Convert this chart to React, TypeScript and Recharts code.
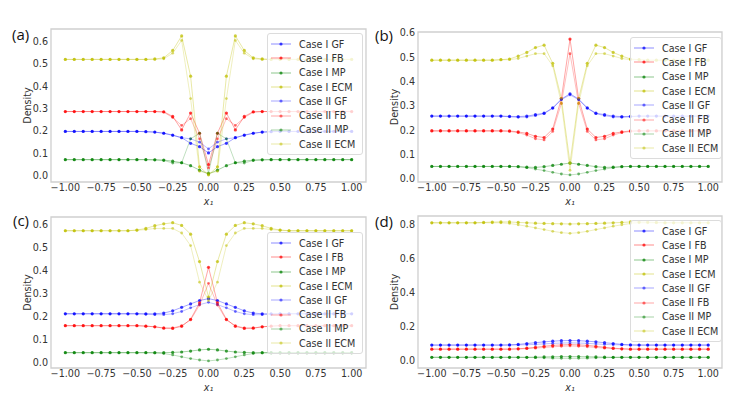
import { LineChart, Line, XAxis, YAxis, ReferenceArea, Legend } from "recharts";

// x positions: 33 evenly spaced samples on [-1, 1]
const X = [
  -1, -0.9375, -0.875, -0.8125, -0.75, -0.6875, -0.625, -0.5625, -0.5, -0.4375, -0.375, -0.3125, -0.25, -0.1875, -0.125,
  -0.0625, 0, 0.0625, 0.125, 0.1875, 0.25, 0.3125, 0.375, 0.4375, 0.5, 0.5625, 0.625, 0.6875, 0.75, 0.8125, 0.875, 0.9375, 1,
];

const X_TICKS = [-1, -0.75, -0.5, -0.25, 0, 0.25, 0.5, 0.75, 1];
const NAMES = ["Case I GF", "Case I FB", "Case I MP", "Case I ECM", "Case II GF", "Case II FB", "Case II MP", "Case II ECM"];
const COLORS = ["#0000ff", "#ff0000", "#008000", "#bfbf00"];

// (a)
const A_GF1 = [0.198, 0.198, 0.198, 0.198, 0.198, 0.198, 0.198, 0.198, 0.198, 0.197, 0.195, 0.19, 0.182, 0.17, 0.145, 0.13, 0.102, 0.13, 0.145, 0.17, 0.182, 0.19, 0.195, 0.197, 0.198, 0.198, 0.198, 0.198, 0.198, 0.198, 0.198, 0.198, 0.198];
const A_FB1 = [0.287, 0.287, 0.287, 0.287, 0.287, 0.287, 0.287, 0.287, 0.287, 0.287, 0.287, 0.286, 0.265, 0.205, 0.28, 0.19, 0.05, 0.19, 0.28, 0.205, 0.265, 0.286, 0.287, 0.287, 0.287, 0.287, 0.287, 0.287, 0.287, 0.287, 0.287, 0.287, 0.287];
const A_MP1 = [0.072, 0.072, 0.072, 0.072, 0.072, 0.072, 0.072, 0.072, 0.072, 0.072, 0.071, 0.07, 0.065, 0.058, 0.045, 0.025, 0.008, 0.025, 0.045, 0.058, 0.065, 0.07, 0.071, 0.072, 0.072, 0.072, 0.072, 0.072, 0.072, 0.072, 0.072, 0.072, 0.072];
const A_ECM1 = [0.52, 0.52, 0.52, 0.52, 0.52, 0.52, 0.52, 0.52, 0.52, 0.52, 0.522, 0.527, 0.56, 0.625, 0.445, 0.04, 0.004, 0.04, 0.445, 0.625, 0.56, 0.527, 0.522, 0.52, 0.52, 0.52, 0.52, 0.52, 0.52, 0.52, 0.52, 0.52, 0.52];
const A_GF2 = [0.198, 0.198, 0.198, 0.198, 0.198, 0.198, 0.198, 0.198, 0.198, 0.197, 0.195, 0.19, 0.18, 0.17, 0.165, 0.15, 0.12, 0.15, 0.165, 0.17, 0.18, 0.19, 0.195, 0.197, 0.198, 0.198, 0.198, 0.198, 0.198, 0.198, 0.198, 0.198, 0.198];
const A_FB2 = [0.287, 0.287, 0.287, 0.287, 0.287, 0.287, 0.287, 0.287, 0.287, 0.287, 0.287, 0.284, 0.26, 0.225, 0.255, 0.165, 0.035, 0.165, 0.255, 0.225, 0.26, 0.284, 0.287, 0.287, 0.287, 0.287, 0.287, 0.287, 0.287, 0.287, 0.287, 0.287, 0.287];
const A_MP2 = [0.072, 0.072, 0.072, 0.072, 0.072, 0.072, 0.072, 0.072, 0.072, 0.072, 0.071, 0.068, 0.057, 0.058, 0.165, 0.19, 0.012, 0.19, 0.165, 0.058, 0.057, 0.068, 0.071, 0.072, 0.072, 0.072, 0.072, 0.072, 0.072, 0.072, 0.072, 0.072, 0.072];
const A_ECM2 = [0.52, 0.52, 0.52, 0.52, 0.52, 0.52, 0.52, 0.52, 0.52, 0.52, 0.52, 0.523, 0.548, 0.605, 0.345, 0.02, 0.01, 0.02, 0.345, 0.605, 0.548, 0.523, 0.52, 0.52, 0.52, 0.52, 0.52, 0.52, 0.52, 0.52, 0.52, 0.52, 0.52];

// (b)
const B_GF1 = [0.258, 0.258, 0.258, 0.258, 0.258, 0.258, 0.258, 0.258, 0.258, 0.257, 0.256, 0.258, 0.264, 0.27, 0.292, 0.328, 0.35, 0.328, 0.292, 0.27, 0.264, 0.258, 0.256, 0.257, 0.258, 0.258, 0.258, 0.258, 0.258, 0.258, 0.258, 0.258, 0.258];
const B_FB1 = [0.198, 0.198, 0.198, 0.198, 0.198, 0.198, 0.198, 0.198, 0.198, 0.197, 0.193, 0.187, 0.175, 0.17, 0.205, 0.33, 0.575, 0.33, 0.205, 0.17, 0.175, 0.187, 0.193, 0.197, 0.198, 0.198, 0.198, 0.198, 0.198, 0.198, 0.198, 0.198, 0.198];
const B_MP1 = [0.051, 0.051, 0.051, 0.051, 0.051, 0.051, 0.051, 0.051, 0.051, 0.051, 0.05, 0.048, 0.047, 0.05, 0.055, 0.06, 0.065, 0.06, 0.055, 0.05, 0.047, 0.048, 0.05, 0.051, 0.051, 0.051, 0.051, 0.051, 0.051, 0.051, 0.051, 0.051, 0.051];
const B_ECM1 = [0.488, 0.488, 0.488, 0.488, 0.488, 0.488, 0.488, 0.488, 0.49, 0.493, 0.505, 0.52, 0.54, 0.55, 0.475, 0.33, 0.065, 0.33, 0.475, 0.55, 0.54, 0.52, 0.505, 0.493, 0.49, 0.488, 0.488, 0.488, 0.488, 0.488, 0.488, 0.488, 0.488];
const B_GF2 = [0.258, 0.258, 0.258, 0.258, 0.258, 0.258, 0.258, 0.258, 0.258, 0.255, 0.253, 0.254, 0.26, 0.268, 0.29, 0.326, 0.345, 0.326, 0.29, 0.268, 0.26, 0.254, 0.253, 0.255, 0.258, 0.258, 0.258, 0.258, 0.258, 0.258, 0.258, 0.258, 0.258];
const B_FB2 = [0.196, 0.196, 0.196, 0.196, 0.196, 0.196, 0.196, 0.196, 0.196, 0.195, 0.19, 0.18, 0.165, 0.16, 0.195, 0.31, 0.515, 0.31, 0.195, 0.16, 0.165, 0.18, 0.19, 0.195, 0.196, 0.196, 0.196, 0.196, 0.196, 0.196, 0.196, 0.196, 0.196];
const B_MP2 = [0.051, 0.051, 0.051, 0.051, 0.051, 0.051, 0.051, 0.051, 0.051, 0.051, 0.05, 0.046, 0.04, 0.034, 0.027, 0.02, 0.016, 0.02, 0.027, 0.034, 0.04, 0.046, 0.05, 0.051, 0.051, 0.051, 0.051, 0.051, 0.051, 0.051, 0.051, 0.051, 0.051];
const B_ECM2 = [0.488, 0.488, 0.488, 0.488, 0.488, 0.488, 0.488, 0.488, 0.49, 0.49, 0.495, 0.505, 0.515, 0.515, 0.465, 0.31, 0.035, 0.31, 0.465, 0.515, 0.515, 0.505, 0.495, 0.49, 0.49, 0.488, 0.488, 0.488, 0.488, 0.488, 0.488, 0.488, 0.488];

// (c)
const C_GF1 = [0.212, 0.212, 0.212, 0.212, 0.212, 0.212, 0.212, 0.212, 0.212, 0.212, 0.212, 0.215, 0.225, 0.24, 0.255, 0.27, 0.278, 0.27, 0.255, 0.24, 0.225, 0.215, 0.212, 0.212, 0.212, 0.212, 0.212, 0.212, 0.212, 0.212, 0.212, 0.212, 0.212];
const C_FB1 = [0.16, 0.16, 0.16, 0.16, 0.16, 0.16, 0.16, 0.16, 0.16, 0.158, 0.155, 0.149, 0.148, 0.157, 0.188, 0.26, 0.415, 0.26, 0.188, 0.157, 0.148, 0.149, 0.155, 0.158, 0.16, 0.16, 0.16, 0.16, 0.16, 0.16, 0.16, 0.16, 0.16];
const C_MP1 = [0.042, 0.042, 0.042, 0.042, 0.042, 0.042, 0.042, 0.042, 0.042, 0.042, 0.042, 0.042, 0.043, 0.045, 0.049, 0.054, 0.057, 0.054, 0.049, 0.045, 0.043, 0.042, 0.042, 0.042, 0.042, 0.042, 0.042, 0.042, 0.042, 0.042, 0.042, 0.042, 0.042];
const C_ECM1 = [0.575, 0.575, 0.575, 0.575, 0.575, 0.575, 0.575, 0.575, 0.578, 0.585, 0.597, 0.605, 0.61, 0.598, 0.56, 0.44, 0.285, 0.44, 0.56, 0.598, 0.61, 0.605, 0.597, 0.585, 0.578, 0.575, 0.575, 0.575, 0.575, 0.575, 0.575, 0.575, 0.575];
const C_GF2 = [0.212, 0.212, 0.212, 0.212, 0.212, 0.212, 0.212, 0.212, 0.212, 0.21, 0.208, 0.208, 0.212, 0.222, 0.238, 0.252, 0.262, 0.252, 0.238, 0.222, 0.212, 0.208, 0.208, 0.21, 0.212, 0.212, 0.212, 0.212, 0.212, 0.212, 0.212, 0.212, 0.212];
const C_FB2 = [0.16, 0.16, 0.16, 0.16, 0.16, 0.16, 0.16, 0.16, 0.16, 0.158, 0.155, 0.15, 0.15, 0.16, 0.185, 0.25, 0.345, 0.25, 0.185, 0.16, 0.15, 0.15, 0.155, 0.158, 0.16, 0.16, 0.16, 0.16, 0.16, 0.16, 0.16, 0.16, 0.16];
const C_MP2 = [0.042, 0.042, 0.042, 0.042, 0.042, 0.042, 0.042, 0.042, 0.042, 0.042, 0.041, 0.038, 0.032, 0.024, 0.016, 0.01, 0.006, 0.01, 0.016, 0.024, 0.032, 0.038, 0.041, 0.042, 0.042, 0.042, 0.042, 0.042, 0.042, 0.042, 0.042, 0.042, 0.042];
const C_ECM2 = [0.575, 0.575, 0.575, 0.575, 0.575, 0.575, 0.575, 0.575, 0.577, 0.58, 0.585, 0.585, 0.585, 0.565, 0.51, 0.35, 0.27, 0.35, 0.51, 0.565, 0.585, 0.585, 0.585, 0.58, 0.577, 0.575, 0.575, 0.575, 0.575, 0.575, 0.575, 0.575, 0.575];

// (d)
const D_GF1 = [0.09, 0.09, 0.09, 0.09, 0.09, 0.09, 0.09, 0.09, 0.09, 0.091, 0.094, 0.099, 0.104, 0.109, 0.113, 0.116, 0.117, 0.116, 0.113, 0.109, 0.104, 0.099, 0.094, 0.091, 0.09, 0.09, 0.09, 0.09, 0.09, 0.09, 0.09, 0.09, 0.09];
const D_FB1 = [0.066, 0.066, 0.066, 0.066, 0.066, 0.066, 0.066, 0.066, 0.066, 0.066, 0.068, 0.072, 0.077, 0.083, 0.088, 0.091, 0.093, 0.091, 0.088, 0.083, 0.077, 0.072, 0.068, 0.066, 0.066, 0.066, 0.066, 0.066, 0.066, 0.066, 0.066, 0.066, 0.066];
const D_MP1 = [0.018, 0.018, 0.018, 0.018, 0.018, 0.018, 0.018, 0.018, 0.018, 0.018, 0.018, 0.018, 0.019, 0.02, 0.021, 0.022, 0.022, 0.022, 0.021, 0.02, 0.019, 0.018, 0.018, 0.018, 0.018, 0.018, 0.018, 0.018, 0.018, 0.018, 0.018, 0.018, 0.018];
const D_ECM1 = [0.81, 0.81, 0.81, 0.81, 0.81, 0.81, 0.812, 0.814, 0.815, 0.815, 0.812, 0.81, 0.808, 0.806, 0.805, 0.804, 0.803, 0.804, 0.805, 0.806, 0.808, 0.81, 0.812, 0.815, 0.815, 0.814, 0.812, 0.81, 0.81, 0.81, 0.81, 0.81, 0.81];
const D_GF2 = [0.09, 0.09, 0.09, 0.09, 0.09, 0.09, 0.09, 0.09, 0.09, 0.09, 0.091, 0.092, 0.094, 0.097, 0.1, 0.102, 0.103, 0.102, 0.1, 0.097, 0.094, 0.092, 0.091, 0.09, 0.09, 0.09, 0.09, 0.09, 0.09, 0.09, 0.09, 0.09, 0.09];
const D_FB2 = [0.066, 0.066, 0.066, 0.066, 0.066, 0.066, 0.066, 0.066, 0.066, 0.066, 0.067, 0.069, 0.072, 0.076, 0.08, 0.083, 0.085, 0.083, 0.08, 0.076, 0.072, 0.069, 0.067, 0.066, 0.066, 0.066, 0.066, 0.066, 0.066, 0.066, 0.066, 0.066, 0.066];
const D_MP2 = [0.018, 0.018, 0.018, 0.018, 0.018, 0.018, 0.018, 0.018, 0.018, 0.018, 0.018, 0.017, 0.016, 0.015, 0.013, 0.012, 0.012, 0.012, 0.013, 0.015, 0.016, 0.017, 0.018, 0.018, 0.018, 0.018, 0.018, 0.018, 0.018, 0.018, 0.018, 0.018, 0.018];
const D_ECM2 = [0.81, 0.81, 0.81, 0.81, 0.81, 0.81, 0.81, 0.81, 0.81, 0.806, 0.798, 0.79, 0.78, 0.77, 0.76, 0.752, 0.748, 0.752, 0.76, 0.77, 0.78, 0.79, 0.798, 0.806, 0.81, 0.81, 0.81, 0.81, 0.81, 0.81, 0.81, 0.81, 0.81];

const FONT = "'DejaVu Sans', sans-serif";
const TEXT = "#333";
const TICK_FS = 9.6;

// line / marker alpha for Case I and Case II
const LINE_OP = [0.35, 0.25];
const DOT_OP = [0.75, 0.55];

function fmt(v: number, d: number) {
  const s = Math.abs(v).toFixed(d);
  return v < 0 ? "\u2212" + s : s;
}

function LegendBox() {
  return (
    <div
      style={{
        background: "rgba(255,255,255,0.8)",
        border: "1px solid #dcdcdc",
        borderRadius: 3,
        padding: "3px 4px 3px 3px",
        fontFamily: FONT,
        fontSize: TICK_FS,
        color: TEXT,
      }}
    >
      {NAMES.map((n, k) => {
        const c = COLORS[k % 4];
        const g = k >= 4 ? 1 : 0;
        return (
          <div key={n} style={{ display: "flex", alignItems: "center", height: 14.3, whiteSpace: "nowrap" }}>
            <svg width={20} height={8} style={{ marginRight: 8, flex: "none" }}>
              <line x1={0} y1={4} x2={20} y2={4} stroke={c} strokeOpacity={LINE_OP[g] + 0.1} />
              <circle cx={10} cy={4} r={1.6} fill={c} fillOpacity={DOT_OP[g]} />
            </svg>
            <span>{n}</span>
          </div>
        );
      })}
    </div>
  );
}

type PanelProps = {
  tag: string;
  left: number;
  top: number;
  width: number;
  height: number;
  plot: { l: number; t: number; r: number; b: number };
  yDomain: [number, number];
  yTicks: number[];
  series: number[][];
  legend: { left: number; top: number; width: number };
  tagPos: { left: number; top: number };
};

function Panel(p: PanelProps) {
  const data = X.map((x, i) => {
    const row: Record<string, number> = { x };
    p.series.forEach((s, k) => {
      row["s" + k] = s[i];
    });
    return row;
  });
  const yW = 32;
  const xH = 24;
  const margin = {
    top: p.plot.t - p.top,
    left: p.plot.l - p.left - yW,
    right: p.left + p.width - p.plot.r,
    bottom: p.top + p.height - p.plot.b - xH,
  };
  return (
    <div style={{ position: "absolute", left: p.left, top: p.top, width: p.width, height: p.height }}>
      <LineChart width={p.width} height={p.height} data={data} margin={margin} style={{ fontFamily: FONT }}>
        <ReferenceArea
          x1={-1.1}
          x2={1.1}
          y1={p.yDomain[0]}
          y2={p.yDomain[1]}
          fill="#ffffff"
          fillOpacity={0}
          stroke="#cfcfcf"
          strokeWidth={1.3}
        />
        <XAxis
          type="number"
          dataKey="x"
          domain={[-1.1, 1.1]}
          allowDataOverflow
          ticks={X_TICKS}
          interval={0}
          tickFormatter={(v) => fmt(v, 2)}
          axisLine={false}
          tickLine={false}
          tickSize={1}
          tickMargin={1}
          height={xH}
          tick={{ fontSize: TICK_FS, fill: TEXT }}
          label={{ value: "x\u2081", position: "insideBottom", offset: 1, style: { fontSize: 9.6, fill: TEXT, fontStyle: "italic" } }}
        />
        <YAxis
          type="number"
          domain={p.yDomain}
          allowDataOverflow
          ticks={p.yTicks}
          interval={0}
          tickFormatter={(v) => fmt(v, 1)}
          width={yW}
          axisLine={false}
          tickLine={false}
          tickSize={0}
          tickMargin={3}
          tick={{ fontSize: TICK_FS, fill: TEXT }}
          label={{
            value: "Density",
            angle: -90,
            position: "insideLeft",
            offset: 9,
            style: { textAnchor: "middle", fontSize: TICK_FS, fill: TEXT },
          }}
        />
        {p.series.map((_, k) => {
          const c = COLORS[k % 4];
          const g = k >= 4 ? 1 : 0;
          return (
            <Line
              key={k}
              type="linear"
              dataKey={"s" + k}
              name={NAMES[k]}
              stroke={c}
              strokeOpacity={LINE_OP[g]}
              strokeWidth={1}
              dot={{ r: g ? 1.4 : 1.6, fill: c, fillOpacity: DOT_OP[g], stroke: "none" }}
              activeDot={false}
              isAnimationActive={false}
            />
          );
        })}
        <Legend
          layout="horizontal"
          align="center"
          verticalAlign="middle"
          wrapperStyle={{ left: p.legend.left, top: p.legend.top, width: p.legend.width, height: "auto" }}
          content={() => <LegendBox />}
        />
      </LineChart>
      <div
        style={{
          position: "absolute",
          left: p.tagPos.left,
          top: p.tagPos.top,
          fontFamily: "'Open Sans', sans-serif",
          fontSize: 15,
          lineHeight: "15px",
          color: "#111",
        }}
      >
        {p.tag}
      </div>
    </div>
  );
}

export default function App() {
  return (
    <div style={{ position: "absolute", left: 0, top: 0, width: 750, height: 397, background: "#fff", overflow: "hidden" }}>
      <Panel
        tag="(a)"
        left={0}
        top={0}
        width={375}
        height={207}
        plot={{ l: 51, t: 29, r: 366, b: 182 }}
        yDomain={[-0.028, 0.656]}
        yTicks={[0, 0.1, 0.2, 0.3, 0.4, 0.5, 0.6]}
        series={[A_GF1, A_FB1, A_MP1, A_ECM1, A_GF2, A_FB2, A_MP2, A_ECM2]}
        legend={{ left: 267, top: 33, width: 96 }}
        tagPos={{ left: 12, top: 27 }}
      />
      <Panel
        tag="(b)"
        left={375}
        top={0}
        width={375}
        height={207}
        plot={{ l: 418, t: 32, r: 722, b: 182 }}
        yDomain={[-0.013, 0.604]}
        yTicks={[0, 0.1, 0.2, 0.3, 0.4, 0.5, 0.6]}
        series={[B_GF1, B_FB1, B_MP1, B_ECM1, B_GF2, B_FB2, B_MP2, B_ECM2]}
        legend={{ left: 255, top: 37, width: 92 }}
        tagPos={{ left: 0, top: 28 }}
      />
      <Panel
        tag="(c)"
        left={0}
        top={195}
        width={375}
        height={202}
        plot={{ l: 51, t: 217, r: 366, b: 368 }}
        yDomain={[-0.025, 0.635]}
        yTicks={[0, 0.1, 0.2, 0.3, 0.4, 0.5, 0.6]}
        series={[C_GF1, C_FB1, C_MP1, C_ECM1, C_GF2, C_FB2, C_MP2, C_ECM2]}
        legend={{ left: 267, top: 37, width: 96 }}
        tagPos={{ left: 13, top: 18 }}
      />
      <Panel
        tag="(d)"
        left={375}
        top={195}
        width={375}
        height={202}
        plot={{ l: 418, t: 216, r: 722, b: 368 }}
        yDomain={[-0.045, 0.85]}
        yTicks={[0, 0.2, 0.4, 0.6, 0.8]}
        series={[D_GF1, D_FB1, D_MP1, D_ECM1, D_GF2, D_FB2, D_MP2, D_ECM2]}
        legend={{ left: 255, top: 25, width: 92 }}
        tagPos={{ left: 0, top: 19 }}
      />
    </div>
  );
}
